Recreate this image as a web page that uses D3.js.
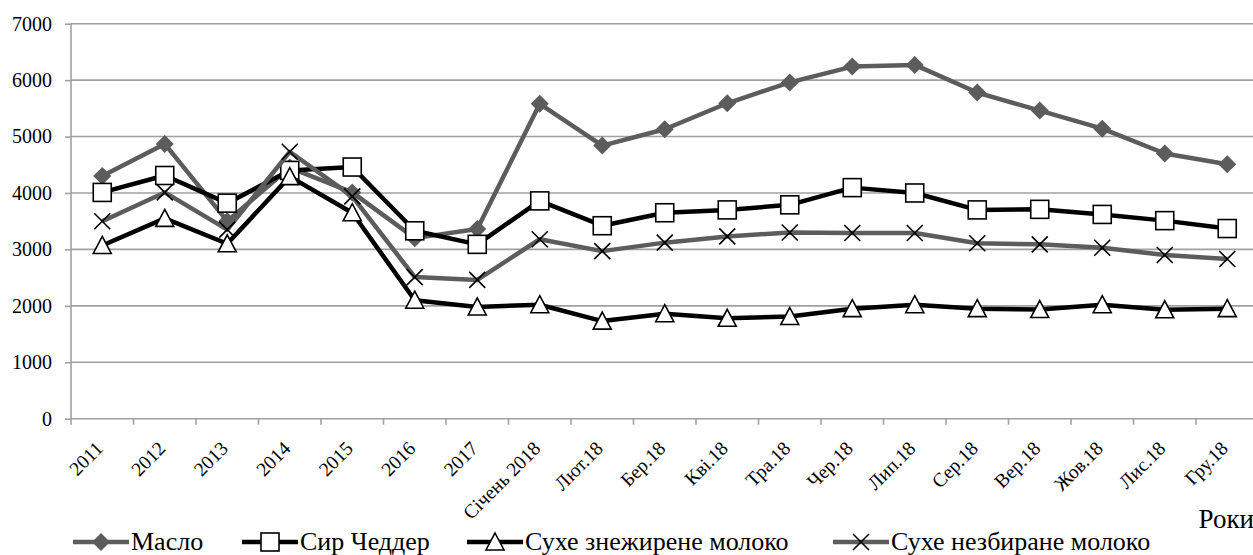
<!DOCTYPE html>
<html>
<head>
<meta charset="utf-8">
<script src="https://cdnjs.cloudflare.com/ajax/libs/d3/7.8.5/d3.min.js"></script>
<style>
body { margin: 0; background: #fff; }
svg text { font-family: "Liberation Serif", "Times New Roman", serif; }
</style>
</head>
<body>
<div id="svg"></div>
<script>
var categories = ["2011", "2012", "2013", "2014", "2015", "2016", "2017", "Січень 2018",
    "Лют.18", "Бер.18", "Кві.18", "Тра.18", "Чер.18", "Лип.18", "Сер.18", "Вер.18",
    "Жов.18", "Лис.18", "Гру.18"];

var maslo = [4300, 4870, 3500, 4450, 4010, 3200, 3360, 5580, 4840, 5130, 5590, 5960, 6240, 6270, 5780, 5460, 5140, 4700, 4510];
var syr = [4010, 4310, 3820, 4400, 4460, 3330, 3090, 3860, 3420, 3650, 3700, 3790, 4095, 4000, 3700, 3710, 3620, 3510, 3370];
var znezh = [3070, 3550, 3100, 4290, 3650, 2100, 1980, 2020, 1730, 1860, 1780, 1810, 1950, 2020, 1950, 1935, 2020, 1930, 1950];
var nezb = [3500, 4010, 3350, 4730, 3940, 2510, 2460, 3180, 2970, 3120, 3230, 3300, 3290, 3290, 3110, 3090, 3030, 2900, 2830];

var seriesNames = ["Масло", "Сир Чеддер", "Сухе знежирене молоко", "Сухе незбиране молоко"];
var yTicks = [0, 1000, 2000, 3000, 4000, 5000, 6000, 7000];
var xTitle = "Роки";

var W = 1253, H = 555;
var margin = {top: 23.7, left: 71, bottom: 136.3};
var plotW = 62.5 * categories.length;
var serif = "'Liberation Serif', 'Times New Roman', serif";

var svg = d3.select("#svg").append("svg")
    .attr("width", W).attr("height", H);

var x = d3.scaleBand().domain(categories).range([margin.left, margin.left + plotW]);
var y = d3.scaleLinear().domain([0, 7000]).range([H - margin.bottom, margin.top]);

var gridColor = "#a0a0a0";

// gridlines
svg.append("g").selectAll("line").data(yTicks).join("line")
    .attr("x1", margin.left).attr("x2", margin.left + plotW)
    .attr("y1", d => y(d)).attr("y2", d => y(d))
    .attr("stroke", gridColor).attr("stroke-width", 1.6);

// y axis
var yAxis = svg.append("g").attr("transform", "translate(" + margin.left + ",0)")
    .call(d3.axisLeft(y).tickValues(yTicks).tickSize(6).tickPadding(13).tickFormat(d3.format("d")));
yAxis.select(".domain").remove();
yAxis.append("line").attr("x1", 0).attr("x2", 0).attr("y1", y(0)).attr("y2", y(7000))
    .attr("stroke", gridColor).attr("stroke-width", 1.6);
yAxis.selectAll(".tick line").attr("stroke", gridColor).attr("stroke-width", 1.6);
yAxis.selectAll(".tick text")
    .attr("fill", "#000")
    .style("font-family", serif)
    .style("font-size", "20px");

// x axis
var xTickPos = d3.range(categories.length + 1).map(i => margin.left + i * x.bandwidth());
svg.append("g").selectAll("line").data(xTickPos).join("line")
    .attr("x1", d => d).attr("x2", d => d)
    .attr("y1", y(0)).attr("y2", y(0) + 6)
    .attr("stroke", gridColor).attr("stroke-width", 1.6);

var c45 = Math.SQRT1_2;
svg.append("g").selectAll("text").data(categories).join("text")
    .attr("transform", d => "matrix(" + c45 + "," + (-c45) + "," + c45 + "," + c45 + "," +
        (x(d) + x.bandwidth() / 2 + 2) + "," + (y(0) + 31) + ")")
    .attr("x", 0).attr("y", 0)
    .attr("text-anchor", "end")
    .style("font-family", serif)
    .style("font-size", "19.5px")
    .text(d => d);

svg.append("text")
    .attr("x", 1254).attr("y", 528)
    .attr("text-anchor", "end")
    .style("font-family", serif)
    .style("font-size", "27px")
    .text(xTitle);

// series
var grey = "#5c5c5c";
var series = [
    {name: seriesNames[0], values: maslo, color: grey, marker: "diamond"},
    {name: seriesNames[1], values: syr, color: "#000", marker: "square"},
    {name: seriesNames[2], values: znezh, color: "#000", marker: "triangle"},
    {name: seriesNames[3], values: nezb, color: grey, marker: "cross"}
];

var line = d3.line()
    .x((d, i) => x(categories[i]) + x.bandwidth() / 2)
    .y(d => y(d));

function drawMarker(g, type, color) {
    if (type === "diamond") {
        g.append("path").attr("d", "M0,-9L9,0L0,9L-9,0Z").attr("fill", color);
    } else if (type === "square") {
        g.append("rect").attr("x", -9).attr("y", -9).attr("width", 18).attr("height", 18)
            .attr("fill", "#fff").attr("stroke", "#000").attr("stroke-width", 1.6);
    } else if (type === "triangle") {
        g.append("path").attr("d", "M0,-9L9,8L-9,8Z")
            .attr("fill", "#fff").attr("stroke", "#000").attr("stroke-width", 1.6);
    } else {
        g.append("path").attr("d", "M-8,-8L8,8M-8,8L8,-8")
            .attr("stroke", "#000").attr("stroke-width", 1.6);
    }
}

var plot = svg.append("g");
series.forEach(function(s) {
    plot.append("path").datum(s.values)
        .attr("d", line)
        .attr("fill", "none")
        .attr("stroke", s.color)
        .attr("stroke-width", 4.5)
        .attr("stroke-linejoin", "round");
    plot.append("g").selectAll("g").data(s.values).join("g")
        .attr("transform", (d, i) => "translate(" + (x(categories[i]) + x.bandwidth() / 2) + "," + y(d) + ")")
        .each(function() { drawMarker(d3.select(this), s.marker, s.color); });
});

// legend
var legendX = [73, 242, 467, 833];
var legend = svg.append("g");
series.forEach(function(s, i) {
    var g = legend.append("g").attr("transform", "translate(" + legendX[i] + ",542)");
    g.append("line").attr("x1", 0).attr("x2", 56).attr("y1", 0).attr("y2", 0)
        .attr("stroke", s.color).attr("stroke-width", 4.5);
    drawMarker(g.append("g").attr("transform", "translate(28,0)"), s.marker, s.color);
    g.append("text").attr("x", 58).attr("y", 8)
        .style("font-family", serif)
        .style("font-size", "26px")
        .text(s.name);
});
</script>
</body>
</html>
